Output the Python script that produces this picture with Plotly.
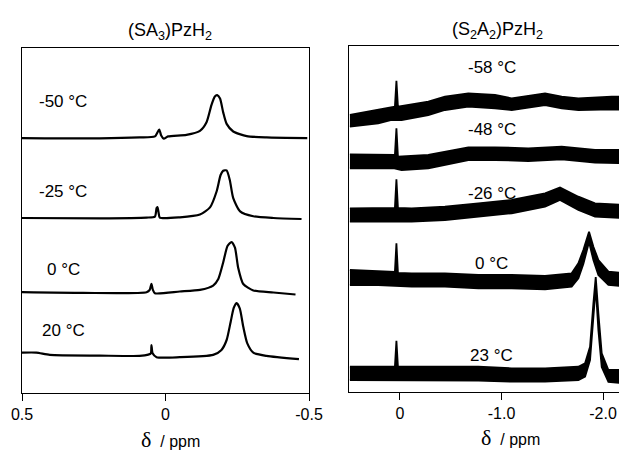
import plotly.graph_objects as go

# ---------------- Left panel: (SA3)PzH2, clean spectra ----------------
L_labels = ["-50 °C", "-25 °C", "0 °C", "20 °C"]
L_m50_x = [0.5, 0.229, 0.090, 0.037, 0.022, 0.015, 0.006, -0.009, -0.073, -0.120, -0.143,
           -0.160, -0.172, -0.180, -0.190, -0.201, -0.213, -0.236, -0.283, -0.352, -0.494]
L_m50_y = [254.9, 254.6, 255.6, 256.6, 263.5, 257.5, 254.3, 256.6, 258.2, 262.2, 270.8,
           287.9, 296.5, 297.8, 294.5, 280.6, 269.1, 261.5, 256.9, 255.6, 254.9]
L_m25_x = [0.5, 0.229, 0.066, 0.037, 0.031, 0.028, 0.024, 0.020, -0.050, -0.120, -0.155,
           -0.178, -0.192, -0.201, -0.213, -0.224, -0.236, -0.260, -0.306, -0.376, -0.474]
L_m25_y = [175.0, 174.7, 175.4, 176.4, 185.0, 186.0, 180.2, 175.4, 175.7, 178.4, 185.6,
           201.5, 218.0, 222.2, 222.6, 213.0, 194.8, 181.6, 176.7, 175.0, 174.0]
L_0_x = [0.5, 0.287, 0.066, 0.055, 0.049, 0.044, 0.037, -0.050, -0.120, -0.166, -0.184,
         -0.201, -0.216, -0.230, -0.242, -0.253, -0.271, -0.306, -0.376, -0.453]
L_0_y = [100.8, 100.1, 100.8, 103.1, 109.1, 103.1, 99.8, 101.5, 103.1, 107.4, 114.0,
         130.5, 147.0, 151.0, 145.4, 125.6, 109.0, 102.5, 100.5, 98.5]
L_20_x = [0.5, 0.450, 0.403, 0.229, 0.090, 0.060, 0.051, 0.049, 0.045, 0.031, -0.050,
          -0.166, -0.195, -0.213, -0.227, -0.238, -0.248, -0.259, -0.271, -0.285, -0.306,
          -0.352, -0.465]
L_20_y = [40.4, 40.4, 38.1, 37.4, 37.1, 38.4, 39.7, 48.0, 39.7, 35.8, 35.8,
          38.1, 43.1, 53.0, 71.1, 85.3, 89.9, 84.3, 66.2, 49.6, 40.4,
          37.1, 33.8]
L_label_y = [292, 202, 124, 63]
L_ticks = [0.5, 0, -0.5]
L_ticktext = ["0.5", "0", "-0.5"]

# ---------------- Right panel: (S2A2)PzH2, noisy spectra (envelopes) ----------------
R_labels = ["-58 °C", "-48 °C", "-26 °C", "0 °C", "23 °C"]
R_m58_up_x = [0.493, 0.214, 0.05, 0.035, 0.02, -0.279, -0.443, -0.673, -0.936, -1.100, -1.429, -1.593, -1.757, -2.085, -2.236]
R_m58_up_y = [277, 282, 285.3, 311.3, 285.3, 290.3, 295.3, 298.7, 297, 293.7, 298.7, 295.3, 293.7, 295.3, 295.3]
R_m58_lo_x = [0.493, 0.214, 0.082, -0.016, -0.279, -0.443, -0.673, -0.936, -1.100, -1.429, -1.593, -1.757, -2.085, -2.236]
R_m58_lo_y = [265.3, 268.7, 272, 272, 277, 282, 285.3, 283.7, 282, 287, 283.7, 282, 282.7, 282]

R_m48_up_x = [0.493, 0.214, 0.05, 0.035, 0.02, -0.279, -0.443, -0.673, -0.936, -1.264, -1.593, -1.921, -2.236]
R_m48_up_y = [237.7, 237.7, 237, 263.7, 235.3, 237, 240.3, 244.7, 244.7, 243.7, 245.3, 242, 242]
R_m48_lo_x = [0.493, 0.214, 0.066, -0.016, -0.279, -0.443, -0.673, -0.936, -1.264, -1.593, -1.921, -2.236]
R_m48_lo_y = [223.7, 223.7, 224, 222, 223.7, 227, 232, 232, 231, 232.7, 229.3, 228.7]

R_m26_up_x = [0.493, 0.214, 0.05, 0.035, 0.02, -0.115, -0.443, -0.772, -1.100, -1.429, -1.576, -1.757, -1.921, -2.236]
R_m26_up_y = [183.7, 183.7, 184, 212.7, 184, 183.7, 185.3, 188.7, 192, 198.7, 204.5, 195.3, 188.7, 187]
R_m26_lo_x = [0.493, -0.115, -0.443, -0.772, -1.100, -1.429, -1.576, -1.757, -1.921, -2.236]
R_m26_lo_y = [170.3, 170.3, 172, 175.3, 178.7, 185.3, 192, 182, 175.3, 173.7]

R_0_up_x = [0.493, 0.214, 0.05, 0.035, 0.02, -0.115, -0.443, -0.772, -1.100, -1.429, -1.691, -1.757, -1.806, -1.862, -1.905, -1.954, -2.053, -2.236]
R_0_up_y = [122, 120.3, 120, 148.7, 119, 118.7, 118.7, 117, 117, 116, 118.7, 128.7, 142, 160.3, 145.3, 132, 120.3, 118.7]
R_0_lo_x = [0.493, 0.214, -0.115, -0.443, -0.772, -1.100, -1.429, -1.691, -1.757, -1.806, -1.862, -1.905, -1.954, -2.053, -2.236]
R_0_lo_y = [107, 107, 105.3, 105.3, 103.7, 103.7, 102.7, 105.3, 113.7, 128, 150, 132, 117, 107, 105.3]

R_23_up_x = [0.493, 0.05, 0.035, 0.02, -0.772, -1.100, -1.429, -1.757, -1.823, -1.872, -1.905, -1.928, -1.954, -1.987, -2.053, -2.236]
R_23_up_y = [25.3, 25.3, 51.3, 25.3, 25.3, 23.7, 23.7, 25.3, 28.7, 45.3, 88.7, 115, 78.7, 38.7, 22, 22]
R_23_lo_x = [0.493, -0.772, -1.100, -1.429, -1.757, -1.823, -1.872, -1.905, -1.928, -1.954, -1.987, -2.053, -2.236]
R_23_lo_y = [12, 11.3, 10.3, 10.3, 12, 15.3, 32, 72, 105, 62, 25, 10, 8.7]

R_label_y = [324, 262, 199, 129, 37]
R_ticks = [0, -1.0, -2.0]
R_ticktext = ["0", "-1.0", "-2.0"]

W, H = 627, 451
OFF = 8  # page body margin offset of the figure inside the window
FONT = "Arial, Liberation Sans, sans-serif"


def px(xw):
    return (xw - OFF) / W


def py(yw):
    return 1 - (yw - OFF) / H


fig = go.Figure()

# left spectra
for xs, ys in [(L_m50_x, L_m50_y), (L_m25_x, L_m25_y), (L_0_x, L_0_y), (L_20_x, L_20_y)]:
    fig.add_trace(go.Scatter(x=xs, y=ys, mode="lines", xaxis="x", yaxis="y",
                             line=dict(color="black", width=2.2, shape="spline", smoothing=0.6),
                             showlegend=False, hoverinfo="skip"))

# right spectra as filled noise envelopes
R_sets = [(R_m58_up_x, R_m58_up_y, R_m58_lo_x, R_m58_lo_y),
          (R_m48_up_x, R_m48_up_y, R_m48_lo_x, R_m48_lo_y),
          (R_m26_up_x, R_m26_up_y, R_m26_lo_x, R_m26_lo_y),
          (R_0_up_x, R_0_up_y, R_0_lo_x, R_0_lo_y),
          (R_23_up_x, R_23_up_y, R_23_lo_x, R_23_lo_y)]
for ux, uy, lx, ly in R_sets:
    pxs = list(ux) + list(reversed(lx))
    pys = list(uy) + list(reversed(ly))
    fig.add_trace(go.Scatter(x=pxs, y=pys, mode="lines", fill="toself", fillcolor="black",
                             xaxis="x2", yaxis="y2",
                             line=dict(color="black", width=1.8),
                             showlegend=False, hoverinfo="skip"))

axis_common = dict(showgrid=False, zeroline=False, showline=True, linecolor="black",
                   linewidth=1.2, automargin=False)
fig.update_layout(
    width=W, height=H, autosize=False,
    margin=dict(l=0, r=0, t=0, b=0, pad=0, autoexpand=False),
    paper_bgcolor="white", plot_bgcolor="white",
    font=dict(family=FONT, color="black", size=16),
    xaxis=dict(domain=[px(22), px(309)], range=[0.5, -0.5], anchor="y",
               tickvals=L_ticks, ticktext=L_ticktext, ticks="outside", ticklen=7,
               tickwidth=1.2, tickcolor="black", mirror=True,
               tickfont=dict(size=16), **axis_common),
    yaxis=dict(domain=[py(393), py(48)], range=[0, 345], anchor="x",
               showticklabels=False, ticks="", mirror=True, **axis_common),
    xaxis2=dict(domain=[px(349), px(627)], range=[0.502, -2.236], anchor="y2",
                tickvals=R_ticks, ticktext=R_ticktext, ticks="outside", ticklen=7,
                tickwidth=1.2, tickcolor="black", mirror=True,
                tickfont=dict(size=16), **axis_common),
    yaxis2=dict(domain=[py(392), py(46)], range=[0, 346], anchor="x2",
                showticklabels=False, ticks="", mirror=False, **axis_common),
)

ann = []
for t, yv in zip(L_labels, L_label_y):
    ann.append(dict(x=0.357, y=yv, xref="x", yref="y", text=t, showarrow=False,
                    xanchor="center", yanchor="middle", font=dict(size=17)))
for t, yv in zip(R_labels, R_label_y):
    ann.append(dict(x=-0.903, y=yv, xref="x2", yref="y2", text=t, showarrow=False,
                    xanchor="center", yanchor="middle", font=dict(size=17)))
# panel titles
ann.append(dict(x=px(170), y=py(31), xref="paper", yref="paper",
                xanchor="center", yanchor="middle",
                text="(SA<sub>3</sub>)PzH<sub>2</sub>", showarrow=False, font=dict(size=18)))
ann.append(dict(x=px(497), y=py(30), xref="paper", yref="paper",
                xanchor="center", yanchor="middle",
                text="(S<sub>2</sub>A<sub>2</sub>)PzH<sub>2</sub>", showarrow=False, font=dict(size=18)))
# axis titles
delta = "<span style='font-family:Liberation Serif, Times New Roman, serif;font-size:22px'>δ</span>&nbsp; / ppm"
ann.append(dict(x=px(170), y=py(439), xref="paper", yref="paper", text=delta,
                xanchor="center", yanchor="middle", showarrow=False, font=dict(size=16)))
ann.append(dict(x=px(510), y=py(437), xref="paper", yref="paper", text=delta,
                xanchor="center", yanchor="middle", showarrow=False, font=dict(size=16)))
fig.update_layout(annotations=ann)

fig.write_html("out.html")
